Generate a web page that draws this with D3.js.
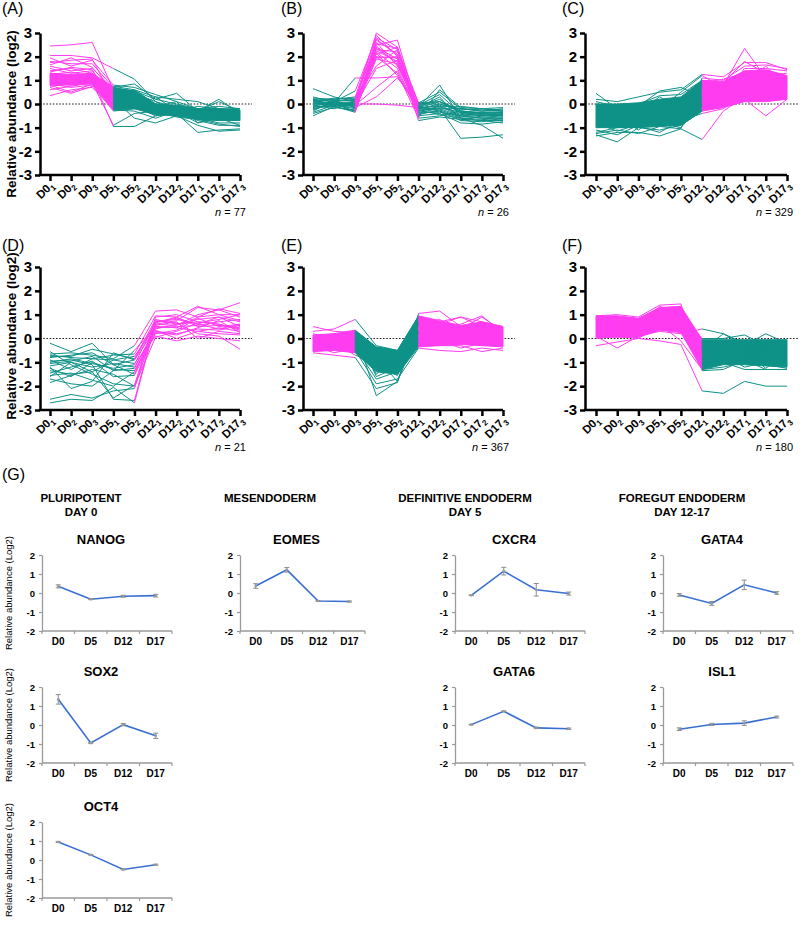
<!DOCTYPE html>
<html><head><meta charset="utf-8">
<script src="https://cdn.jsdelivr.net/npm/d3@7"></script>
<style>
body{margin:0;background:#fff}
svg{display:block}
text{font-family:"Liberation Sans",Arial,sans-serif}
</style>
</head><body>
<svg id="c" width="800" height="926"></svg>
<script>
// ---------- DATA ----------
const tpBase = ["D0","D0","D0","D5","D5","D12","D12","D17","D17","D17"];
const tpSub  = ["1","2","3","1","2","1","2","1","2","3"];
const yTicksTop = [-3,-2,-1,0,1,2,3];

// segment colour per interval (M = magenta, T = teal)
const segA = "MMMTTTTTT", segB = "TTMMMTTTT", segC = "TTTTTMMMM";
const segD = "TTTTMMMMM", segE = "MMTTTMMMM", segF = "MMMMMTTTT";
const nA = 77, nB = 26, nC = 329, nD = 21, nE = 367, nF = 180;

// dense core envelopes (low / high) where lines merge into a solid band
const coreA_low  = [0.8,0.8,0.85,-0.25,-0.2,-0.45,-0.5,-0.65,-0.7,-0.7];
const coreA_high = [1.3,1.25,1.3,0.7,0.55,0.0,-0.05,-0.2,-0.2,-0.25];
const coreC_low  = [-1.0,-1.0,-1.0,-0.95,-0.9,-0.3,-0.15,0.1,0.1,0.2];
const coreC_high = [0.0,0.0,0.05,0.2,0.3,1.0,0.95,1.4,1.45,1.2];
const coreE_low  = [-0.55,-0.5,-0.6,-1.4,-1.5,-0.35,-0.3,-0.25,-0.3,-0.35];
const coreE_high = [0.15,0.2,0.35,-0.35,-0.5,0.95,0.75,0.55,0.7,0.5];
const coreF_low  = [0.05,0.05,0.05,0.35,0.25,-1.3,-1.1,-1.1,-1.15,-1.2];
const coreF_high = [0.95,0.95,0.85,1.3,1.35,-0.05,-0.05,-0.05,-0.05,-0.05];

const linesA = [
 [2.45,2.5,2.6,0.6,0.5,0.0,-0.2,-0.4,-0.3,-0.5],
 [2.05,2.05,1.95,1.5,1.05,0.1,-0.3,-0.6,-0.5,-0.6],
 [1.95,1.6,1.85,0.8,0.7,0.4,0.1,-0.8,-0.6,-0.9],
 [1.8,1.7,1.7,0.7,0.85,0.2,0.45,-0.3,0.2,-0.4],
 [1.65,1.95,1.55,0.5,0.5,-0.1,0.1,-0.2,-0.2,-0.3],
 [1.5,1.3,1.4,0.3,0.4,-0.3,-0.4,-1.2,-1.1,-1.05],
 [1.4,1.5,1.3,0.1,0.2,-0.2,-0.3,-0.7,-0.9,-0.9],
 [1.3,1.2,1.25,-0.1,0.0,-0.4,-0.5,-0.9,-1.15,-1.1],
 [1.2,1.1,1.2,0.75,0.6,0.0,-0.1,-0.2,-0.3,-0.3],
 [1.1,1.2,1.0,0.2,-0.6,-0.8,-0.5,-0.6,-0.8,-0.8],
 [1.0,0.9,1.1,-0.95,-0.95,-0.5,-0.3,-0.5,-0.4,-0.5],
 [0.95,1.0,0.9,-0.9,-0.4,-0.3,-0.5,-0.3,-0.3,-0.2],
 [0.9,0.8,0.95,0.0,0.3,-0.1,-0.2,-0.4,-0.5,-0.6],
 [0.85,0.7,0.8,-0.3,-0.2,0.3,-0.3,-0.1,-0.2,-0.3],
 [0.8,0.5,0.85,0.4,0.1,-0.3,-0.2,-0.3,-0.4,-0.4],
 [0.7,0.45,0.75,0.6,0.3,-0.2,-0.4,-0.5,-0.6,-0.7],
 [0.35,0.6,0.7,-0.2,-0.1,-0.5,-0.4,-0.6,-0.7,-0.6],
 [1.05,1.15,1.1,0.5,0.2,-0.1,-0.3,-0.35,-0.45,-0.5],
 [1.25,1.35,1.15,0.3,0.0,-0.25,-0.35,-0.5,-0.3,-0.45],
 [1.15,1.0,1.3,0.1,-0.1,-0.2,-0.45,-0.4,-0.6,-0.55],
 [0.75,0.85,1.0,-0.25,-0.3,-0.6,-0.3,-0.8,-0.5,-0.7],
 [1.6,1.4,1.5,0.65,0.55,0.2,0.0,-0.2,-0.1,-0.2],
 [1.35,1.55,1.45,0.0,-0.2,-0.2,-0.1,-0.3,0.1,-0.3],
 [1.0,1.05,0.85,0.35,0.45,0.1,-0.15,-0.45,-0.55,-0.35],
 [0.6,0.75,0.9,-0.15,0.15,-0.35,-0.55,-0.65,-0.85,-0.95],
 [1.75,1.85,1.9,0.2,0.6,0.3,0.2,0.1,-0.2,-0.2],
 [0.9,1.1,1.2,0.55,0.35,-0.4,-0.2,-0.25,-0.25,-0.6],
 [1.1,0.95,1.05,-0.05,0.05,0.0,-0.3,-0.6,-0.4,-0.45]
];
const linesB = [
 [0.65,0.3,0.1,3.0,2.4,0.0,0.1,-0.3,-0.4,-0.5],
 [0.25,0.2,0.3,2.9,2.0,-0.1,0.8,-0.6,-0.7,-0.8],
 [0.2,0.1,0.55,2.8,2.3,0.05,0.5,-0.2,-0.3,-0.3],
 [0.15,0.0,-0.3,2.6,1.6,-0.2,-0.2,-1.45,-1.4,-1.3],
 [0.1,0.25,0.2,2.5,2.7,-0.3,-0.1,-0.5,-0.6,-0.6],
 [0.05,-0.05,0.0,2.4,1.9,-0.1,0.2,-0.4,-0.5,-0.4],
 [0.0,0.1,-0.1,2.3,2.2,-0.2,0.0,-0.3,-0.35,-0.45],
 [-0.05,0.05,0.1,2.2,1.5,-0.4,-0.3,-0.6,-0.9,-1.45],
 [-0.1,-0.1,-0.35,2.25,1.8,-0.15,0.3,-0.7,-0.5,-0.55],
 [-0.15,0.0,0.05,2.1,2.4,-0.5,-0.4,-0.8,-0.85,-0.75],
 [-0.2,-0.05,-0.2,2.0,1.3,-0.6,-0.5,-0.3,-0.4,-0.35],
 [-0.3,0.15,0.15,1.95,2.0,-0.25,-0.2,-0.2,-0.25,-0.3],
 [-0.4,-0.15,-0.25,1.9,1.7,-0.35,-0.35,-0.5,-0.6,-0.65],
 [-0.5,-0.1,-0.3,2.7,2.1,-0.7,-0.55,-0.65,-0.7,-0.7],
 [0.3,0.05,1.1,1.1,1.15,0.0,0.0,-0.2,-0.3,-0.2],
 [0.0,0.0,0.0,0.0,-0.05,-0.15,-0.1,-0.1,-0.2,-0.25],
 [0.1,0.15,-0.15,0.3,1.1,-0.05,0.4,-0.4,-0.5,-0.45],
 [-0.25,0.1,0.2,1.6,2.3,-0.3,-0.15,-0.35,-0.45,-0.5],
 [0.2,-0.1,-0.05,0.7,1.4,-0.45,-0.25,-0.55,-0.55,-0.6],
 [-0.05,-0.2,0.1,2.0,1.95,0.05,0.1,-0.25,-0.2,-0.15],
 [0.05,0.05,-0.05,1.5,1.85,-0.2,-0.05,-0.45,-0.35,-0.4],
 [-0.35,-0.05,-0.15,2.35,1.75,-0.1,-0.3,-0.7,-0.75,-0.6],
 [0.15,0.2,0.25,2.55,2.35,-0.55,0.6,-0.15,-0.2,-0.3],
 [-0.1,0.1,0.0,2.15,1.2,-0.25,-0.45,-0.6,-0.65,-0.7],
 [0.1,-0.05,0.1,2.75,2.05,-0.35,-0.2,-0.5,-0.45,-0.5],
 [-0.2,0.0,-0.1,2.45,1.65,-0.15,0.1,-0.35,-0.4,-0.35]
];
const linesC = [
 [0.45,-0.2,-0.1,0.55,0.7,0.3,0.8,2.35,1.1,1.0],
 [-1.35,-1.2,-1.2,-1.35,-1.05,-1.5,-0.3,0.3,0.2,0.3],
 [-1.3,-1.6,-1.0,-1.1,-0.9,-0.3,0.2,0.2,-0.5,0.2],
 [0.2,0.1,0.3,0.5,0.6,1.25,1.15,1.75,1.75,1.45],
 [-1.25,-1.1,-1.25,-0.95,-1.05,1.1,1.0,1.6,1.65,1.5],
 [0.0,-0.2,0.0,0.35,0.4,1.0,0.9,1.8,1.3,1.2],
 [-1.2,-1.0,-0.95,-1.2,-0.7,-0.4,-0.2,0.5,0.3,0.2],
 [-0.9,-0.5,-1.1,-0.5,-0.1,0.8,0.5,1.2,1.0,1.1],
 [-0.2,-0.6,-0.4,0.1,0.25,0.6,0.3,1.5,1.5,1.4],
 [-1.0,-0.8,-0.7,-0.6,-0.8,0.2,0.6,0.9,1.6,0.7],
 [-0.6,-0.9,-0.6,-0.3,-0.4,-0.1,0.1,0.6,0.8,0.5],
 [0.1,-0.1,-0.3,0.3,-0.2,0.9,1.05,1.3,1.2,1.0],
 [-1.1,-1.3,-0.9,-0.8,-1.0,0.0,0.4,1.1,0.9,0.8],
 [-0.8,-1.15,-0.85,-0.2,0.5,1.2,0.7,1.0,1.2,1.3]
];
const linesD = [
 [-0.2,-0.55,-0.2,-1.1,-0.9,0.7,0.8,0.6,0.9,0.5],
 [-0.65,-0.6,-0.7,-0.85,-0.3,1.15,1.2,0.9,1.25,1.05],
 [-0.7,-0.8,-0.85,-0.7,-0.65,0.95,0.9,1.35,1.0,1.0],
 [-0.75,-0.75,-0.45,-0.65,-0.85,0.8,0.6,0.7,0.6,0.4],
 [-0.8,-0.7,-0.6,-1.1,-1.5,0.6,0.55,1.0,1.2,1.5],
 [-0.9,-1.3,-0.85,-0.9,-0.75,0.5,0.45,0.3,0.2,0.15],
 [-1.05,-0.95,-0.75,-1.35,-1.25,0.45,0.5,0.55,0.7,0.8],
 [-1.15,-1.0,-1.2,-1.05,-1.2,0.35,0.0,0.3,0.45,0.3],
 [-1.25,-1.6,-1.0,-1.3,-1.35,0.3,0.2,0.4,0.35,0.55],
 [-1.35,-1.5,-1.4,-0.9,-1.05,0.1,-0.1,0.1,0.0,-0.1],
 [-1.55,-1.45,-1.75,-2.0,-1.4,0.2,0.35,0.85,0.5,0.6],
 [-1.6,-1.0,-1.4,-2.5,-1.95,0.55,0.7,0.0,0.3,0.2],
 [-1.85,-1.55,-1.3,-1.5,-2.0,0.05,0.3,0.65,0.8,1.0],
 [-2.55,-2.35,-2.5,-2.2,-2.1,0.6,0.75,1.3,1.2,0.9],
 [-2.7,-2.55,-2.6,-2.05,-2.7,0.65,0.9,0.5,0.55,0.45],
 [-0.95,-0.9,-1.1,-2.55,-2.6,0.75,0.65,0.2,0.1,-0.45],
 [-1.2,-2.1,-1.8,-0.6,-0.9,0.4,0.6,0.8,0.9,0.7],
 [-0.55,-1.1,-1.5,-1.9,-2.0,0.9,1.0,0.7,0.6,0.35],
 [-1.45,-1.2,-0.95,-1.6,-1.55,0.25,0.15,0.45,0.75,0.25],
 [-1.0,-0.85,-1.05,-1.25,-1.1,0.7,0.85,0.6,0.4,0.6],
 [-1.7,-1.9,-2.0,-1.35,-0.5,0.5,0.45,0.9,1.0,0.75]
];
const linesE = [
 [0.5,0.3,0.25,-2.4,-1.8,0.3,0.5,0.4,0.9,0.3],
 [-0.6,-0.7,-0.8,-2.1,-1.85,1.05,1.15,0.5,0.6,0.4],
 [0.3,0.4,0.8,-0.3,-0.5,0.9,0.7,0.9,0.5,0.5],
 [-0.5,-0.4,-0.5,-1.9,-1.7,-0.4,-0.5,-0.55,-0.4,-0.5],
 [0.1,0.2,0.3,-1.6,-1.2,0.2,0.4,0.6,0.95,0.2],
 [-0.3,-0.6,-0.4,-1.7,-1.4,0.0,-0.3,-0.3,-0.55,-0.4],
 [0.2,0.0,0.3,-0.8,-1.8,0.6,0.8,0.3,0.3,0.5],
 [-0.4,-0.2,-0.7,-1.0,-1.0,-0.2,-0.1,-0.4,-0.2,-0.3],
 [0.0,-0.3,0.1,-1.5,-0.7,0.7,0.6,0.9,0.7,0.5],
 [-0.2,0.1,-0.1,-1.2,-1.55,0.3,0.2,0.1,0.0,-0.2]
];
const linesF = [
 [-0.3,-0.15,0.0,-0.1,-0.25,-2.2,-2.3,-1.8,-2.0,-2.0],
 [0.95,1.0,0.9,1.4,1.45,-1.35,-1.3,-0.9,-1.3,-1.3],
 [0.1,-0.4,0.1,0.3,0.2,0.4,0.2,-0.3,0.2,-0.2],
 [0.8,0.6,0.7,1.0,1.1,0.0,0.0,0.15,-0.3,-0.9],
 [0.5,0.3,0.4,0.5,0.3,-0.5,0.2,-0.2,-0.5,-0.1],
 [0.2,0.1,0.3,0.7,0.9,-1.0,-1.0,-1.3,-1.3,-1.3],
 [0.6,0.8,0.5,1.2,1.3,-0.8,-0.7,-1.2,-1.0,-1.1],
 [0.3,0.2,0.6,0.8,0.6,-0.3,-0.9,-0.5,-1.25,-0.6],
 [0.7,0.5,0.8,0.9,1.2,-1.2,-0.6,-1.0,-0.8,-1.2],
 [0.4,0.9,0.2,1.1,0.8,-0.6,-0.4,-0.8,-0.9,-0.5],
 [0.0,0.1,0.0,0.6,-0.1,-1.3,-1.2,-1.0,-1.1,-1.25],
 [0.9,0.7,0.6,1.35,1.0,-0.7,-1.0,-0.5,-0.4,-1.0]
];

// (G) qPCR panels
const gCats = ["D0","D5","D12","D17"];
const gTicks = [-2,-1,0,1,2];
const nanogMean = [0.35,-0.33,-0.17,-0.14], nanogErr = [0.08,0.02,0.05,0.07];
const sox2Mean  = [1.35,-0.95,0.02,-0.57],  sox2Err  = [0.25,0.03,0.06,0.14];
const oct4Mean  = [0.95,0.27,-0.5,-0.25],   oct4Err  = [0.03,0.02,0.02,0.03];
const eomesMean = [0.37,1.22,-0.42,-0.45],  eomesErr = [0.12,0.12,0.02,0.03];
const cxcr4Mean = [-0.12,1.15,0.17,-0.03],  cxcr4Err = [0.02,0.2,0.33,0.08];
const gata6Mean = [0.02,0.72,-0.15,-0.2],   gata6Err = [0.02,0.02,0.04,0.04];
const gata4Mean = [-0.1,-0.55,0.43,0.0],    gata4Err = [0.07,0.1,0.25,0.07];
const isl1Mean  = [-0.22,0.03,0.1,0.42],    isl1Err  = [0.07,0.06,0.12,0.05];
const stageHeaders = [["PLURIPOTENT","DAY 0"],["MESENDODERM"],["DEFINITIVE ENDODERM","DAY 5"],["FOREGUT ENDODERM","DAY 12-17"]];

// ---------- LAYOUT ----------
const COL = {M:"#ff3cf0", T:"#0e9187"};
const FONT = '"Liberation Sans", Arial, sans-serif';
const rowsTop = [{y0:33,y1:175,ly:14,ty:114},{y0:267,y1:410,ly:251,ty:336}];
const colsTop = [{ax:40,x0:50,x1:240,lx:2},{ax:303,x0:313,x1:503,lx:281},{ax:585,x0:596,x1:787,lx:562}];
const panels = [
 {lab:"A",lines:linesA,seg:segA,n:nA,lo:coreA_low,hi:coreA_high,r:0,c:0},
 {lab:"B",lines:linesB,seg:segB,n:nB,lo:null,hi:null,r:0,c:1},
 {lab:"C",lines:linesC,seg:segC,n:nC,lo:coreC_low,hi:coreC_high,r:0,c:2},
 {lab:"D",lines:linesD,seg:segD,n:nD,lo:null,hi:null,r:1,c:0},
 {lab:"E",lines:linesE,seg:segE,n:nE,lo:coreE_low,hi:coreE_high,r:1,c:1},
 {lab:"F",lines:linesF,seg:segF,n:nF,lo:coreF_low,hi:coreF_high,r:1,c:2}
];

const svg = d3.select("#c");

function runs(seg){
  const out=[]; let i=0;
  while(i<seg.length){ let j=i; while(j+1<seg.length && seg[j+1]===seg[i]) j++; out.push({c:seg[i],s:i,e:j+1}); i=j+1; }
  return out;
}

panels.forEach(p=>{
  const row=rowsTop[p.r], col=colsTop[p.c];
  const g=svg.append("g");
  const idx=d3.range(tpBase.length);
  const x=d3.scalePoint().domain(idx).range([col.x0,col.x1]);
  const y=d3.scaleLinear().domain([-3,3]).range([row.y1,row.y0]);
  g.append("line").attr("x1",col.ax).attr("x2",col.x1+12).attr("y1",y(0)).attr("y2",y(0))
    .attr("stroke","#222").attr("stroke-width",1).attr("stroke-dasharray","1.6,1.6");
  const rs=runs(p.seg);
  if(p.lo){
    rs.forEach(r=>{
      const ii=d3.range(r.s,r.e+1);
      const area=d3.area().x(i=>x(i)).y0(i=>y(p.lo[i])).y1(i=>y(p.hi[i]));
      g.append("path").attr("d",area(ii)).attr("fill",COL[r.c]).attr("stroke",COL[r.c]).attr("stroke-width",1);
    });
  }
  const line=d3.line().x(d=>x(d[0])).y(d=>y(d[1]));
  rs.forEach(r=>{
    p.lines.forEach(v=>{
      const pts=d3.range(r.s,r.e+1).map(i=>[i,v[i]]);
      g.append("path").attr("d",line(pts)).attr("fill","none").attr("stroke",COL[r.c]).attr("stroke-width",1);
    });
  });
  const ya=g.append("g").attr("transform",`translate(${col.ax},0)`)
    .call(d3.axisLeft(y).tickValues(yTicksTop).tickSize(5).tickSizeOuter(0).tickPadding(3).tickFormat(d=>String(d)));
  ya.attr("font-family",FONT).attr("font-size",15).attr("font-weight","bold");
  ya.select(".domain").attr("stroke","#000").attr("stroke-width",2.5);
  ya.selectAll(".tick line").attr("stroke","#000").attr("stroke-width",2.5);
  ya.selectAll(".tick text").attr("fill","#000");
  const xa=g.append("g").attr("transform",`translate(0,${row.y1})`)
    .call(d3.axisBottom(x).tickSize(6).tickSizeOuter(0).tickFormat(()=>""));
  xa.attr("font-family",FONT).attr("font-size",11.5).attr("font-weight","bold");
  xa.select(".domain").remove();
  xa.append("line").attr("x1",col.ax-1.2).attr("x2",col.x1).attr("y1",0).attr("y2",0).attr("stroke","#000").attr("stroke-width",2.5);
  xa.selectAll(".tick line").attr("stroke","#000").attr("stroke-width",2.5);
  xa.selectAll(".tick").each(function(d){
    const t=d3.select(this).select("text");
    t.text(null).attr("y",0).attr("dy",null).attr("fill","#000")
     .attr("transform","translate(4,11) rotate(-45)").attr("text-anchor","end");
    t.append("tspan").text(tpBase[d]);
    t.append("tspan").attr("font-size",8).attr("dy",3).text(tpSub[d]);
  });
  const nt=g.append("text").attr("x",col.x1+6).attr("y",row.y1+41).attr("text-anchor","end")
    .attr("font-size",11).attr("font-family",FONT);
  nt.append("tspan").attr("font-style","italic").text("n");
  nt.append("tspan").text(" = "+p.n);
  g.append("text").attr("x",col.lx).attr("y",row.ly).attr("font-size",16).attr("font-family",FONT).text(`(${p.lab})`);
  if(p.c===0){
    g.append("text").attr("transform",`translate(16,${row.ty}) rotate(-90)`).attr("text-anchor","middle")
     .attr("font-size",13.5).attr("font-weight","bold").attr("font-family",FONT).text("Relative abundance (log2)");
  }
});

// ---------- (G) ----------
svg.append("text").attr("x",2).attr("y",480).attr("font-size",16).attr("font-family",FONT).text("(G)");
const headerX=[81,270,465,682];
stageHeaders.forEach((h,i)=>{
  h.forEach((s,j)=>{
    svg.append("text").attr("x",headerX[i]).attr("y",502+j*14).attr("text-anchor","middle")
      .attr("font-size",11.5).attr("font-weight","bold").attr("font-family",FONT).text(s);
  });
});

const gColX=[{ax:42,w:130},{ax:240,w:125},{ax:455,w:130},{ax:663,w:130}];
const gRowY=[555,687,822];
const gCharts=[
 {name:"NANOG",m:nanogMean,e:nanogErr,c:0,r:0},
 {name:"SOX2",m:sox2Mean,e:sox2Err,c:0,r:1},
 {name:"OCT4",m:oct4Mean,e:oct4Err,c:0,r:2},
 {name:"EOMES",m:eomesMean,e:eomesErr,c:1,r:0},
 {name:"CXCR4",m:cxcr4Mean,e:cxcr4Err,c:2,r:0},
 {name:"GATA6",m:gata6Mean,e:gata6Err,c:2,r:1},
 {name:"GATA4",m:gata4Mean,e:gata4Err,c:3,r:0},
 {name:"ISL1",m:isl1Mean,e:isl1Err,c:3,r:1}
];
const AX="#9a9a9a";
gCharts.forEach(ch=>{
  const cx=gColX[ch.c], top=gRowY[ch.r], bot=top+76;
  const g=svg.append("g");
  const x=d3.scaleBand().domain(gCats).range([cx.ax,cx.ax+cx.w]);
  const y=d3.scaleLinear().domain([-2,2]).range([bot,top]);
  g.append("text").attr("x",cx.ax+cx.w/2-6).attr("y",top-11).attr("text-anchor","middle")
    .attr("font-size",13).attr("font-weight","bold").attr("font-family",FONT).text(ch.name);
  const ya=g.append("g").attr("transform",`translate(${cx.ax},0)`)
    .call(d3.axisLeft(y).tickValues(gTicks).tickSize(3).tickSizeOuter(0).tickPadding(4).tickFormat(d=>String(d)));
  ya.attr("font-family",FONT).attr("font-size",9.5).attr("font-weight","bold");
  ya.select(".domain").attr("stroke",AX).attr("stroke-width",1.3);
  ya.selectAll(".tick line").attr("stroke",AX).attr("stroke-width",1.2);
  ya.selectAll(".tick text").attr("fill","#000");
  const xa=g.append("g").attr("transform",`translate(0,${bot})`)
    .call(d3.axisBottom(x).tickSize(0).tickPadding(7));
  xa.attr("font-family",FONT).attr("font-size",10).attr("font-weight","bold");
  xa.select(".domain").remove();
  xa.selectAll(".tick text").attr("fill","#000");
  xa.append("line").attr("x1",cx.ax).attr("x2",cx.ax+cx.w).attr("stroke",AX).attr("stroke-width",1.3);
  gCats.concat([null]).forEach(c=>{
    const bx=c===null?cx.ax+cx.w:x(c);
    xa.append("line").attr("x1",bx).attr("x2",bx).attr("y1",0).attr("y2",3).attr("stroke",AX).attr("stroke-width",1.2);
  });
  const line=d3.line().x((d,i)=>x(gCats[i])+x.bandwidth()/2).y(d=>y(d));
  g.append("path").attr("d",line(ch.m)).attr("fill","none").attr("stroke","#3a6fd2").attr("stroke-width",1.6);
  ch.m.forEach((v,i)=>{
    const px=x(gCats[i])+x.bandwidth()/2, e=ch.e[i];
    g.append("line").attr("x1",px).attr("x2",px).attr("y1",y(v-e)).attr("y2",y(v+e)).attr("stroke","#8c8c8c").attr("stroke-width",1);
    [v-e,v+e].forEach(t=>g.append("line").attr("x1",px-2.5).attr("x2",px+2.5).attr("y1",y(t)).attr("y2",y(t)).attr("stroke","#8c8c8c").attr("stroke-width",1));
    g.append("circle").attr("cx",px).attr("cy",y(v)).attr("r",1.3).attr("fill","#9a9a9a");
  });
  if(ch.c===0){
    g.append("text").attr("transform",`translate(12,${(top+bot)/2}) rotate(-90)`).attr("text-anchor","middle")
      .attr("font-size",9.5).attr("font-family",FONT).text("Relative abundance (Log2)");
  }
});
</script>
</body></html>
